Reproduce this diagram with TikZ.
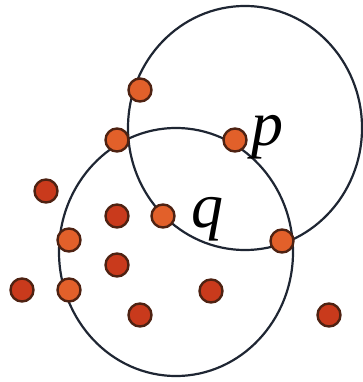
\documentclass[tikz,border=0pt]{standalone}
\usepackage{fontspec}
\setmainfont{Liberation Serif}
\usepackage{tikz}
\definecolor{DotRed}{HTML}{C93A1C}
\definecolor{DotOrange}{HTML}{E2602A}
\definecolor{DotEdge}{HTML}{4E2212}
\definecolor{RingInk}{HTML}{1F2633}

\begin{document}
\begin{tikzpicture}[x=1pt,y=-1pt]

    \tikzstyle{dot}=[
      circle,
      draw=DotEdge,
      line width=2.4pt,
      fill=DotRed,
      minimum size=23pt,
      inner sep=0pt
    ]
    \tikzstyle{hit}=[dot, fill=DotOrange]
    \tikzstyle{ring}=[draw=RingInk, line width=2.2pt]
    \tikzstyle{lbl}=[font=\fontsize{64}{64}\selectfont\itshape, inner sep=0pt, anchor=base west]

    \useasboundingbox (0,0) rectangle (362,382);

    % --- The two circles ---
    \draw[ring] (245,128) ellipse [x radius=117, y radius=122];
    \draw[ring] (176,252) ellipse [x radius=117, y radius=124];

    % --- Points on the circles ---
    \node[hit] (top) at (140,90) {};
    \node[hit] (cross) at (117,140) {};
    \node[hit] (p) at (235,140) {};
    \node[hit] (q) at (163,216) {};
    \node[hit] (left1) at (69,240) {};
    \node[hit] (right) at (282,241) {};
    \node[hit] (left2) at (69,290) {};

    % --- Other points ---
    \node[dot] (a) at (46,191) {};
    \node[dot] (b) at (117,216) {};
    \node[dot] (c) at (117,265) {};
    \node[dot] (d) at (22,290) {};
    \node[dot] (e) at (211,291) {};
    \node[dot] (f) at (140,315) {};
    \node[dot] (g) at (329,315) {};

    % --- Labels ---
    \node[lbl] (plabel) at (251,146) {p};
    \node[lbl] (qlabel) at (191,227) {q};

  \end{tikzpicture}
\end{document}
